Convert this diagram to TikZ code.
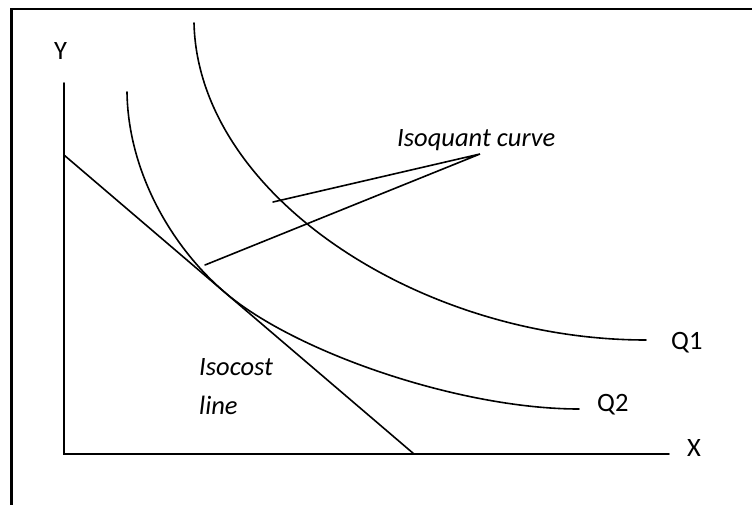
\documentclass[tikz,border=0pt]{standalone}
\usepackage{fontspec}
\setmainfont{Carlito}
\usetikzlibrary{positioning}

\begin{document}
\begin{tikzpicture}[
  x=1pt,y=-1pt,
  every node/.style={font=\fontsize{26.5}{31}\selectfont,inner sep=0pt,anchor=base west},
  curve/.style={line width=1.6pt,line cap=round},
  frameline/.style={line width=2.6pt}
]
\useasboundingbox (0,0) rectangle (752,504);
\clip (0,0) rectangle (752,504);
\draw[frameline] (11.5,520) -- (11.5,9) -- (770,9);

% axes
\coordinate (O) at (64,454);
\coordinate (ytop) at (64,83);
\coordinate (xend) at (669,454);
\draw[curve] (ytop) -- (O) -- (xend);
\node (ylab) at (54,59) {Y};
\node (xlab) at (687,456) {X};

% isocost line
\coordinate (ca) at (64,155);
\coordinate (cb) at (414,454);
\draw[curve] (ca) -- (cb);

% isoquants
\coordinate (q2a) at (127,92);
\coordinate (tan) at (225,292.5);
\coordinate (q2b) at (579,409);
\draw[curve] (q2a) .. controls (128,170) and (170,245.5) .. (tan)
  .. controls (295,352.3) and (460,409) .. (q2b);
\coordinate (q1a) at (194,23);
\coordinate (q1b) at (646,340);
\draw[curve] (q1a) .. controls (198,195) and (420,340) .. (q1b);
\node (q1lab) at (671,349) {Q1};
\node (q2lab) at (597,411) {Q2};

% labels
\node (isoq) at (397,146) {\itshape Isoquant curve};
\coordinate (tip) at (480,154);
\coordinate (p1) at (273,202);
\coordinate (p2) at (205,265);
\draw[curve] (p1) -- (tip) -- (p2);
\node (isoc) at (199,375) {\itshape Isocost};
\node (isocl) at (199,414) {\itshape line};
\end{tikzpicture}
\end{document}
